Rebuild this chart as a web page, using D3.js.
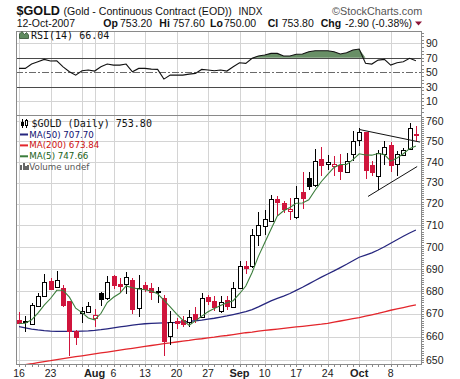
<!DOCTYPE html>
<html><head><meta charset="utf-8">
<script src="https://cdn.jsdelivr.net/npm/d3@7"></script>
<style>body{margin:0;background:#fff}svg{display:block}</style>
</head><body><svg id="c" width="460" height="379"></svg>
<script>
// ---------- data ----------
const dates = ["07-16","07-17","07-18","07-19","07-20","07-23","07-24","07-25","07-26","07-27",
"07-30","07-31","08-01","08-02","08-03","08-06","08-07","08-08","08-09","08-10",
"08-13","08-14","08-15","08-16","08-17","08-20","08-21","08-22","08-23","08-24",
"08-27","08-28","08-29","08-30","08-31","09-04","09-05","09-06","09-07",
"09-10","09-11","09-12","09-13","09-14","09-17","09-18","09-19","09-20","09-21",
"09-24","09-25","09-26","09-27","09-28","10-01","10-02","10-03","10-04","10-05",
"10-08","10-09","10-10","10-11","10-12"];
const opens = [667.3,666.5,665.4,673.3,677.9,684.6,681.9,681.4,675.4,662.6,
670.5,670.6,668.2,679.3,676.8,686.9,683.0,683.2,685.0,672.5,
682.7,681.5,679.6,677.0,660.5,666.6,667.3,666.5,670.0,668.5,
677.2,675.6,671.1,676.0,673.1,681.5,691.0,691.3,705.4,
709.6,711.8,722.0,720.1,716.5,713.6,725.6,732.0,729.0,741.3,
738.9,737.9,738.5,735.2,744.0,750.6,754.6,738.4,733.2,743.7,
748.0,738.7,743.5,746.0,753.2];
const highs = [670.9,669.0,674.8,679.0,687.6,686.0,688.8,682.9,675.4,662.9,
673.0,675.3,672.2,679.7,686.5,687.3,685.8,688.5,686.0,687.0,
684.0,683.5,682.0,678.2,671.3,668.1,669.0,671.7,673.0,679.3,
678.1,677.7,678.0,678.0,683.9,693.5,693.5,708.3,716.3,
717.0,724.2,723.6,721.4,722.7,728.4,735.3,735.3,746.1,747.4,
743.2,743.0,744.0,744.3,755.0,756.3,754.6,740.3,745.7,750.3,
749.5,745.0,746.5,759.1,757.6];
const lows = [665.4,662.0,664.9,673.1,677.6,680.4,681.4,673.1,651.8,656.6,
666.0,670.3,664.0,673.4,676.0,680.7,679.2,678.6,670.0,668.5,
679.6,676.0,674.6,651.6,656.4,663.3,664.0,664.1,665.9,668.1,
673.8,671.3,670.4,671.6,672.9,681.2,687.6,690.5,700.2,
705.2,711.3,714.0,715.8,712.5,713.0,717.5,726.6,728.1,733.0,
735.8,733.0,731.0,735.0,740.5,747.7,731.5,733.0,726.6,738.5,
735.0,733.0,743.0,745.5,750.0];
const closes = [666.1,666.8,673.8,677.8,684.2,680.8,685.0,673.8,662.6,659.9,
671.0,673.4,669.6,676.4,684.2,682.5,682.2,686.2,672.0,681.5,
681.0,679.4,680.0,658.0,666.5,665.9,665.7,668.5,667.6,676.9,
675.6,673.0,675.0,673.4,681.5,691.1,690.2,705.2,710.0,
712.8,722.0,721.0,717.6,717.4,722.9,722.6,728.5,740.2,738.4,
740.1,739.1,735.6,740.3,750.0,754.4,736.0,735.3,744.2,747.4,
738.5,743.7,745.6,756.7,753.8];
const priorCloses = [666.0,666.5,663.0,666.8];
const ma50 = [664.3,663.8,663.3,662.9,662.6,662.4,662.3,662.3,662.3,662.3,
662.4,662.5,662.7,663.0,663.4,663.8,664.2,664.6,665.0,665.3,
665.6,665.8,665.9,666.0,666.1,666.2,666.4,666.6,666.9,667.2,
667.6,668.0,668.5,669.0,669.6,670.2,670.9,671.8,673.0,
674.3,675.6,676.7,677.7,678.9,680.3,681.7,683.2,684.7,686.2,
687.6,689.0,690.5,692.0,693.6,695.2,696.2,697.2,698.5,700.0,
701.6,703.2,704.8,706.3,707.70];
const ma200 = [647.6,648.0,648.4,648.9,649.3,649.7,650.2,650.6,651.0,651.4,
651.8,652.2,652.6,653.0,653.4,653.8,654.2,654.6,655.0,655.4,
655.8,656.2,656.6,657.0,657.3,657.7,658.1,658.4,658.8,659.1,
659.5,659.8,660.2,660.5,660.9,661.3,661.7,662.0,662.4,
662.7,663.0,663.3,663.6,663.9,664.2,664.5,664.8,665.1,665.4,
665.8,666.3,666.8,667.3,667.8,668.3,668.9,669.5,670.1,670.8,
671.5,672.1,672.7,673.3,673.84];
const rsi = [55.4,55.4,61.4,64.6,67.9,65.6,66.0,57.6,50.7,46.1,
52.1,53.1,51.7,57.6,61.4,60.0,60.0,61.4,50.7,55.4,
55.4,54.4,54.0,40.6,46.1,46.1,46.1,47.5,48.5,54.0,
53.1,52.1,53.1,51.7,57.6,63.2,62.4,69.3,72.5,
73.9,76.2,76.2,72.5,72.5,74.9,75.3,78.5,79.9,79.9,
79.9,78.5,75.3,77.1,80.8,82.2,62.4,61.4,66.9,67.9,
60.0,63.2,64.6,69.3,66.04];
const priceTicks = [650,660,670,680,690,700,710,720,730,740,750,760];
const rsiTicks = [10,30,50,70,90];
const xTickDates  = ["07-16","07-23","07-30","08-01","08-06","08-13","08-20","08-27","09-04","09-10","09-17","09-24","10-01","10-08"];
const xTickLabels = ["16","23","","Aug","6","13","20","27","Sep","10","17","24","Oct","8"];
const trendUpper = [[54,755.8],[63.65,749.6]];
const trendLower = [[55.4,723.4],[63.2,737.7]];

// ---------- layout ----------
const svg = d3.select("#c");
const L = 16, R = 421.5;
const rsiTop = 31.5, rsiBot = 115.5, pTop = 115.5, pBot = 364.5;
const RED = "#d0143c", NAVY = "#26267e", MRED = "#e3262c", GRN = "#3b7d3b";
const x = d3.scaleLinear().domain([0, dates.length - 1]).range([19, 415.9]);
const y = d3.scaleLog().domain([650, 760]).range([360, 121]);
const yr = d3.scaleLinear().domain([10, 90]).range([101.2, 43.4]);
const px = v => Math.round(x(v)) + 0.5;

const defs = svg.append("defs");
defs.append("clipPath").attr("id","cp").append("rect").attr("x",L).attr("y",pTop).attr("width",R-L).attr("height",pBot-pTop);
defs.append("clipPath").attr("id","cr").append("rect").attr("x",L).attr("y",rsiTop).attr("width",R-L).attr("height",rsiBot-rsiTop);

// ---------- grids ----------
const g = svg.append("g").attr("shape-rendering","crispEdges");
xTickDates.forEach(d => {
  const xi = px(dates.indexOf(d));
  g.append("line").attr("x1",xi).attr("x2",xi).attr("y1",rsiTop).attr("y2",pBot).attr("stroke","#d4d4d4");
});
priceTicks.forEach(v => {
  const yy = Math.round(y(v)) + 0.5;
  g.append("line").attr("x1",L).attr("x2",R).attr("y1",yy).attr("y2",yy).attr("stroke","#d4d4d4");
});
rsiTicks.forEach(v => {
  const yy = Math.round(yr(v)) + 0.5;
  const ln = g.append("line").attr("x1",L).attr("x2",R).attr("y1",yy).attr("y2",yy);
  if (v === 70 || v === 30) ln.attr("stroke","#4a4a4a");
  else if (v === 50) ln.attr("stroke","#6a6a6a").attr("stroke-dasharray","7,2,2,2");
  else ln.attr("stroke","#d4d4d4");
});

// ---------- RSI panel ----------
const gr = svg.append("g").attr("clip-path","url(#cr)");
gr.append("path").datum(rsi)
  .attr("d", d3.area().x((d,i)=>x(i)).y0(yr(70)).y1(d=>yr(Math.max(d,70))))
  .attr("fill","#688f66");
gr.append("path").datum(rsi)
  .attr("d", d3.line().x((d,i)=>x(i)).y(d=>yr(d)))
  .attr("fill","none").attr("stroke","#111").attr("stroke-width",1.1);

// ---------- price panel ----------
const gp = svg.append("g").attr("clip-path","url(#cp)");
const allC = priorCloses.concat(closes);
const ma5 = closes.map((c,i) => d3.mean(allC.slice(i, i + 5)));
const line = d3.line().x((d,i)=>x(i)).y(d=>y(d));
gp.append("path").datum(ma200).attr("d",line).attr("fill","none").attr("stroke",MRED).attr("stroke-width",1.3);
gp.append("path").datum(ma50).attr("d",line).attr("fill","none").attr("stroke",NAVY).attr("stroke-width",1.3);

const gc = gp.append("g").attr("shape-rendering","crispEdges");
closes.forEach((c,i) => {
  const prev = i === 0 ? priorCloses[priorCloses.length-1] : closes[i-1];
  const col = c < prev ? RED : "#000";
  const hollow = c >= opens[i];
  const xi = px(i);
  gc.append("line").attr("x1",xi).attr("x2",xi).attr("y1",y(highs[i])).attr("y2",y(lows[i])).attr("stroke",col);
  const top = Math.round(y(Math.max(opens[i],c))), bot = Math.round(y(Math.min(opens[i],c)));
  gc.append("rect").attr("x",xi-2).attr("width",4).attr("y",top+0.5).attr("height",Math.max(bot-top,1))
    .attr("fill", hollow ? "#fff" : col).attr("stroke",col);
});
gp.append("path").datum(ma5).attr("d",line).attr("fill","none").attr("stroke",GRN).attr("stroke-width",1.1);
[trendUpper, trendLower].forEach(t => {
  gp.append("line").attr("x1",x(t[0][0])).attr("y1",y(t[0][1])).attr("x2",x(t[1][0])).attr("y2",y(t[1][1]))
    .attr("stroke","#111").attr("stroke-width",1);
});

// ---------- borders & ticks ----------
const gb = svg.append("g").attr("shape-rendering","crispEdges").attr("stroke","#8a8a8a").attr("fill","none");
gb.append("rect").attr("x",L+0.5).attr("y",rsiTop).attr("width",R-L-0.5).attr("height",pBot-rsiTop);
gb.append("line").attr("x1",L).attr("x2",R).attr("y1",pTop).attr("y2",pTop);
d3.range(649, 771, 1).forEach(v => {
  const yy = Math.round(y(v)) + 0.5;
  if (yy > pTop && yy < pBot) gb.append("line").attr("x1",R).attr("x2",R+2).attr("y1",yy).attr("y2",yy);
});
d3.range(-5, 106, 5).forEach(v => {
  const yy = Math.round(yr(v)) + 0.5;
  if (yy > rsiTop && yy < rsiBot) gb.append("line").attr("x1",R).attr("x2",R+2).attr("y1",yy).attr("y2",yy);
});
dates.forEach((d,i) => gb.append("line").attr("x1",px(i)).attr("x2",px(i)).attr("y1",pBot).attr("y2",pBot+2));

// ---------- axis labels ----------
const ax = svg.append("g").attr("font-family","'Liberation Sans',Arial,sans-serif").attr("font-size","10.5px").attr("fill","#222");
priceTicks.forEach(v => ax.append("text").attr("x",426).attr("y",y(v)+3.8).text(v));
rsiTicks.forEach(v => ax.append("text").attr("x",426).attr("y",yr(v)+3.8).text(v));
xTickDates.forEach((d,k) => {
  if (!xTickLabels[k]) return;
  const bold = isNaN(+xTickLabels[k]);
  ax.append("text").attr("x",x(dates.indexOf(d))).attr("y",377).attr("text-anchor","middle")
    .attr("font-size", bold ? "11px" : "10.5px").attr("font-weight", bold ? "bold" : "normal").text(xTickLabels[k]);
});

// ---------- header ----------
const n = closes.length - 1;
const hd = svg.append("g").attr("font-family","'Liberation Sans',Arial,sans-serif").attr("fill","#111");
hd.append("text").attr("x",16.5).attr("y",14.5).attr("font-size","13px").attr("font-weight","bold")
  .attr("textLength",43.5).attr("lengthAdjust","spacingAndGlyphs").text("$GOLD");
hd.append("text").attr("x",63.5).attr("y",14.5).attr("font-size","10.6px").text("(Gold - Continuous Contract (EOD))");
hd.append("text").attr("x",238.5).attr("y",14.5).attr("font-size","10px").text("INDX");
hd.append("text").attr("x",332).attr("y",14.5).attr("font-size","10.8px").attr("fill","#555").text("\u00A9StockCharts.com");
hd.append("text").attr("x",16.7).attr("y",27).attr("font-size","10.5px").text("12-Oct-2007");
const chg = closes[n] - closes[n-1], pct = chg / closes[n-1] * 100;
const parts = [
  ["Op",103.3,true],[opens[n].toFixed(2),120,false],
  ["Hi",159.3,true],[highs[n].toFixed(2),172.7,false],
  ["Lo",210,true],[lows[n].toFixed(2),224,false],
  ["Cl",267.7,true],[closes[n].toFixed(2),281.7,false],
  ["Chg",320.7,true],[chg.toFixed(2) + " (" + pct.toFixed(2) + "%)",345,false]
];
parts.forEach(p => hd.append("text").attr("x",p[1]).attr("y",27).attr("font-size","10.5px")
  .attr("font-weight",p[2] ? "bold" : "normal").text(p[0]));
hd.append("path").attr("d","M415,21.5 L422,21.5 L418.5,25.5 Z").attr("fill","#8b1538");

// ---------- panel legends ----------
const lg = svg.append("g");
lg.append("path").attr("d","M19.5,38.5 L19.5,34 L22,31.5 L24.5,34.5 L26.5,32.5 L28.5,35 L28.5,38.5 Z").attr("fill","#5f8a5f").attr("stroke","#2d4d2d").attr("stroke-width",0.8);
lg.append("text").attr("x",31).attr("y",38.8).attr("font-family","'DejaVu Sans Mono',monospace").attr("font-size","10px").attr("fill","#111")
  .text("RSI(14) " + rsi[n].toFixed(2));
const ic = lg.append("g").attr("shape-rendering","crispEdges");
ic.append("line").attr("x1",22.5).attr("x2",22.5).attr("y1",119).attr("y2",128).attr("stroke","#000");
ic.append("rect").attr("x",21).attr("y",121.5).attr("width",3).attr("height",4).attr("fill","#000");
ic.append("line").attr("x1",26.5).attr("x2",26.5).attr("y1",119).attr("y2",128).attr("stroke","#000");
ic.append("rect").attr("x",25.5).attr("y",120.5).attr("width",2).attr("height",5).attr("fill","#fff").attr("stroke","#000");
lg.append("text").attr("x",31.5).attr("y",127.3).attr("font-family","'DejaVu Sans Mono',monospace").attr("font-size","10px").attr("fill","#111")
  .text("$GOLD (Daily) " + closes[n].toFixed(2));
const legs = [["MA(50) " + ma50[n].toFixed(2), NAVY, "#101070", 137.5],
              ["MA(200) " + ma200[n].toFixed(2), MRED, "#cc1010", 148.4],
              ["MA(5) " + ma5[n].toFixed(2), GRN, "#186018", 159.3]];
legs.forEach(l => {
  lg.append("rect").attr("x",20).attr("y",l[3]-4).attr("width",8).attr("height",2).attr("fill",l[1]);
  lg.append("text").attr("x",29.3).attr("y",l[3]).attr("font-family","'DejaVu Sans',Verdana,sans-serif").attr("font-size","8.7px").attr("fill",l[2]).text(l[0]);
});
const vi = lg.append("g").attr("fill","#666").attr("shape-rendering","crispEdges");
[[20,165,2,5],[22.5,163,2,7],[25,166,2,4],[27,164.5,1.5,5.5]].forEach(b => vi.append("rect").attr("x",b[0]).attr("y",b[1]).attr("width",b[2]).attr("height",b[3]));
lg.append("text").attr("x",29.3).attr("y",170).attr("font-family","'DejaVu Sans',Verdana,sans-serif").attr("font-size","8.7px").attr("fill","#555").text("Volume undef");
</script></body></html>
